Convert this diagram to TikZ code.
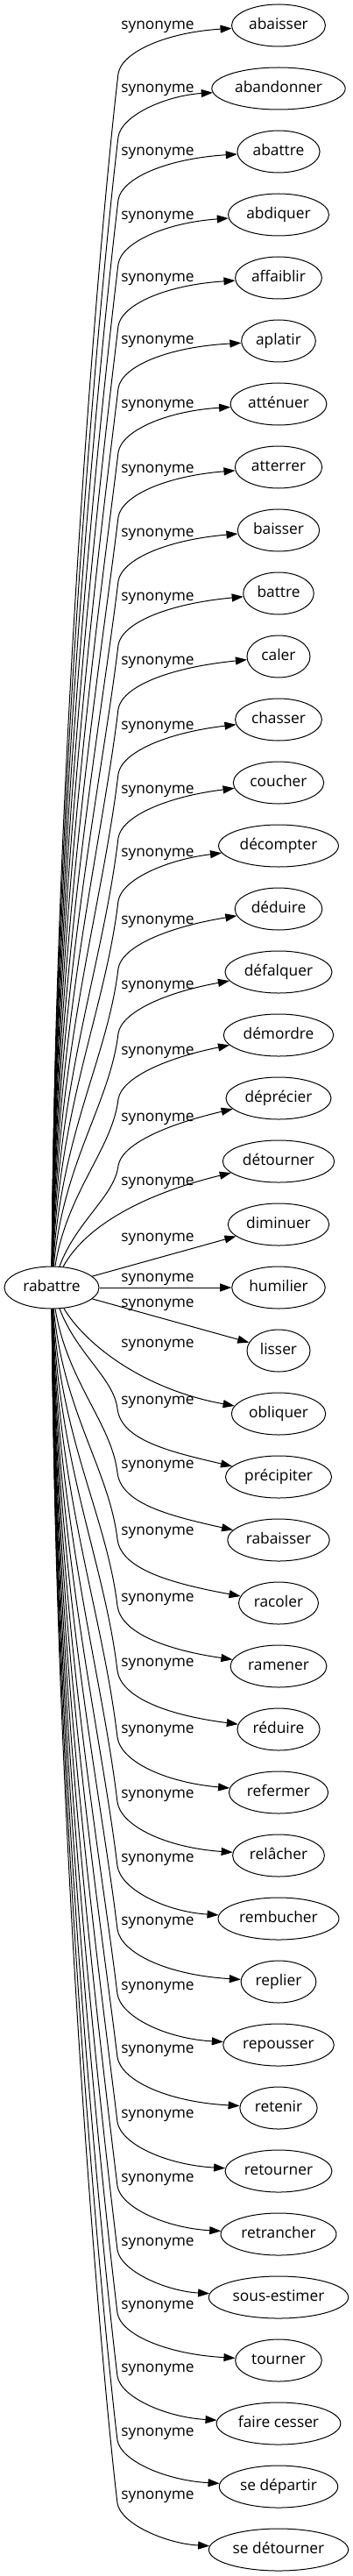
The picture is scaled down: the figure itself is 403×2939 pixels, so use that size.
\documentclass[tikz,border=0pt]{standalone}
\usepackage{fontspec}
\setmainfont{Open Sans}
\usetikzlibrary{arrows.meta,shapes.geometric}

\begin{document}
\begin{tikzpicture}[x=0.75pt,y=-0.75pt,
    word/.style={ellipse,draw,line width=0.75pt,minimum width=54pt,minimum height=36pt,inner xsep=3pt,font=\fontsize{13pt}{15pt}\selectfont,text height=9.5pt,text depth=3pt},
    rel/.style={inner sep=0pt,font=\fontsize{13pt}{15pt}\selectfont,text height=9.5pt,text depth=3pt},
    syn/.style={line width=0.75pt,-{Triangle[length=9.75pt,width=6.75pt]}}
]
\useasboundingbox (0,0) rectangle (403,2939);
\node[word,minimum width=81pt] (r) at (59,1469) {rabattre};
\foreach \w/\ly [count=\i from 0] in {abaisser/29, abandonner/101, abattre/173, abdiquer/246, affaiblir/317, aplatir/388, atténuer/461, atterrer/535, baisser/608, battre/681, caler/754, chasser/828, coucher/901, décompter/973, déduire/1050, défalquer/1124, démordre/1199, déprécier/1275, détourner/1348, diminuer/1412, humilier/1458, lisser/1487, obliquer/1533, précipiter/1598, rabaisser/1671, racoler/1747, ramener/1823, réduire/1897, refermer/1973, relâcher/2047, rembucher/2120, replier/2192, repousser/2266, retenir/2338, retourner/2412, retrancher/2485, sous-estimer/2558, tourner/2630, faire cesser/2702, se départir/2775, se détourner/2847}{
  \pgfmathsetmacro\ty{29+72*\i}
  \node[word] (t\i) at (318,\ty) {\w};
  \node[rel] (l\i) at (180,\ly) {synonyme};
  % upper edges: climb, bend under the label, then right
  \ifnum\i<18
    \pgfmathsetmacro\by{\ly+55}
    \pgfmathsetmacro\D{1445-\by}
    \pgfmathsetmacro\h{min(0.3*\D,150)}
    \coordinate (b\i) at (135,\by);
    \draw[syn] (r) .. controls ({61+3000/\D},{1445-0.45*\D}) and ({135-0.12*\h},{\by+\h}) .. (b\i)
      .. controls (139,{\by-0.45*(\by-\ly)}) and (190,{\ly+8}) .. (t\i);
  \fi
  % lower edges
  \ifnum\i>22
    \pgfmathsetmacro\by{\ly+9}
    \pgfmathsetmacro\D{\by-1493}
    \pgfmathsetmacro\h{min(0.3*\D,150)}
    \pgfmathsetmacro\k{max(7,1.2*(\ty-\ly)-75)}
    \coordinate (b\i) at (134,\by);
    \draw[syn] (r) .. controls ({61+3000/\D},{1493+0.45*\D}) and ({134-0.12*\h},{\by-\h}) .. (b\i)
      .. controls (138,{\by+0.45*(\ty-\by)}) and (190,{\ty-\k}) .. (t\i);
  \fi
}
\draw[syn] (r) .. controls (98,1398) and (165,1362) .. (t18);
\draw[syn] (r) -- (t19);
\draw[syn] (r) -- (t20);
\draw[syn] (r) -- (t21);
\draw[syn] (r) .. controls (96,1532) and (162,1585) .. (t22);
\end{tikzpicture}
\end{document}
